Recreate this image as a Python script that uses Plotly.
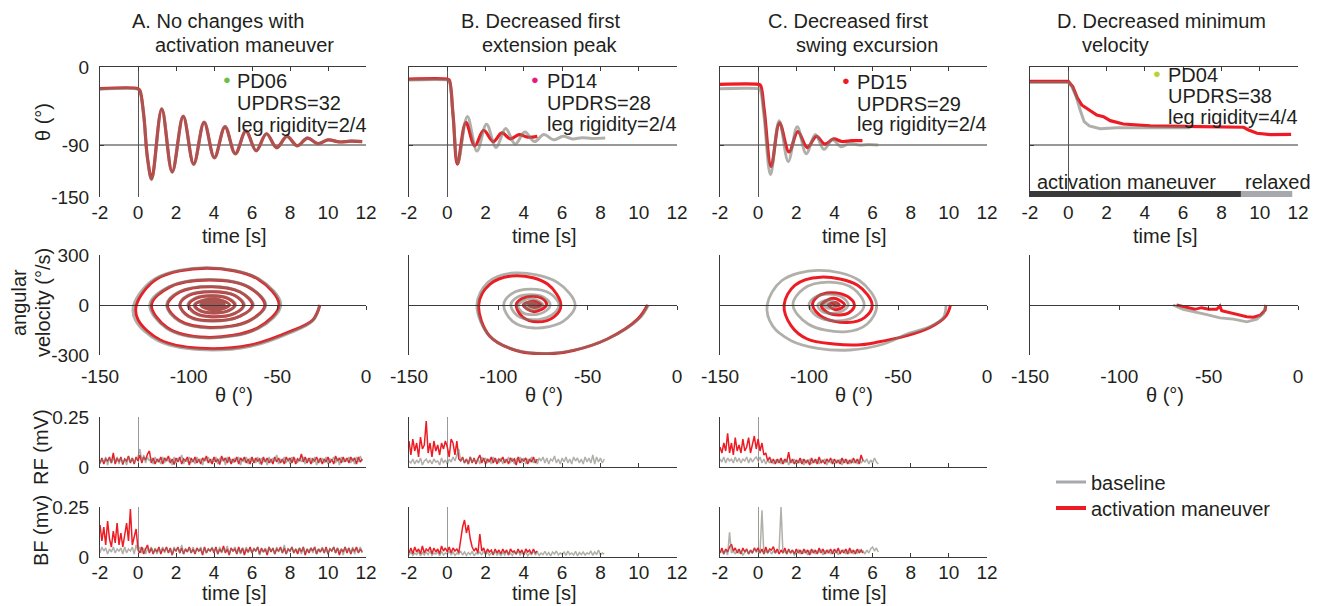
import numpy as np
import plotly.graph_objects as go

W, H = 1319, 606
OFF = 8  # the page body adds an 8 px offset around the figure
FONT = "Liberation Sans, Arial, sans-serif"
TXT = "#231F20"
AXC = "#3A3A3A"
RED = "#ED1C24"
GRAY_TOP = "rgba(125,121,112,0.6)"
GRAY_LEG = "#A7A9AC"

# ---------------- data ----------------
panel_titles = [["A. No changes with", "activation maneuver"],
                ["B. Decreased first", "extension peak"],
                ["C. Decreased first", "swing excursion"],
                ["D. Decreased minimum", "velocity"]]
patients = ["PD06", "PD14", "PD15", "PD04"]
updrs = [32, 28, 29, 38]
leg_rigidity = ["2/4", "2/4", "2/4", "4/4"]
patient_colors = ["#6DBE45", "#E8197E", "#ED1C24", "#B5D334"]

time_ticks = [-2, 0, 2, 4, 6, 8, 10, 12]
theta_ticks = [-150, -90, 0]
phase_x_ticks = [-150, -100, -50, 0]
phase_y_ticks = [-300, 0, 300]
emg_ticks = [0, 0.25]

# angle vs time (key points)
A_act_t = [-2, 0, 0.1, 0.3, 0.5, 0.72, 1.25, 1.8, 2.38, 2.93, 3.48, 4.02, 4.58, 5.12, 5.68, 6.22, 6.76, 7.3, 7.84, 8.38, 8.92, 9.46, 10.0, 10.6, 11.2, 11.8]
A_act_theta = [-25, -25, -27, -55, -105, -129, -48.5, -121, -57, -112, -64, -104.5, -69, -100, -74, -96.5, -77, -93, -80, -91, -82, -88.5, -84, -86.5, -85.5, -86]
A_base_t = A_act_t
A_base_theta = [-25.5, -25.5, -27.5, -56, -106, -130, -48, -121.5, -56.5, -112.5, -63.5, -105, -68.5, -100.5, -73.5, -97, -77, -93.5, -80, -91, -82, -88.5, -84, -86.5, -85.5, -86]

B_act_t = [-2, 0, 0.1, 0.3, 0.53, 0.97, 1.44, 1.9, 2.4, 2.85, 3.3, 3.75, 4.2, 4.7]
B_act_theta = [-14, -14, -15, -55, -112, -64, -91, -73, -86, -76, -83, -78, -81, -80]
B_base_t = [-2, 0, 0.1, 0.3, 0.55, 1.05, 1.55, 2.05, 2.55, 3.05, 3.55, 4.05, 4.55, 5.05, 5.55, 6.05, 6.55, 7.05, 7.55, 8.25]
B_base_theta = [-15, -15, -16, -55, -111, -57, -97, -66, -93, -71, -89, -75, -86, -78, -84, -80, -83, -81.5, -82.5, -82]

C_act_t = [-2, 0, 0.12, 0.32, 0.68, 1.12, 1.62, 2.08, 2.58, 3.05, 3.5, 3.95, 4.4, 4.9, 5.47]
C_act_theta = [-20, -20, -21, -50, -115, -64.5, -98, -74.5, -93, -80, -89, -83, -86, -85, -85]
C_base_t = [-2, 0, 0.1, 0.3, 0.65, 1.1, 1.58, 2.05, 2.52, 3.0, 3.45, 3.9, 4.35, 4.8, 5.3, 5.8, 6.3]
C_base_theta = [-25, -25, -26, -55, -124, -62, -109, -69, -100, -78, -95, -84, -92, -88, -90, -89.5, -90]

D_act_t = [-2, 0, 0.23, 0.48, 0.7, 1.05, 1.49, 1.84, 2.19, 2.88, 4.28, 6.9, 9.16, 9.42, 9.86, 10.55, 11.64]
D_act_theta = [-16.5, -16.5, -22.7, -36, -43.8, -48.8, -55.4, -57.3, -61.9, -65.8, -68, -68.8, -69.5, -72.7, -76.5, -78.1, -77.7]
D_base_t = [-2, 0, 0.18, 0.41, 0.62, 0.83, 1.1, 1.66, 2.54, 6.37]
D_base_theta = [-18, -18, -22, -34.2, -49.6, -63.1, -68, -71.2, -70, -70]

D_phase_bounds = [-2, 9.02, 11.7]
D_phase_labels = ["activation maneuver", "relaxed"]

# phase plane: angle (deg) vs angular velocity (deg/s)
A_act_ph_theta = [-26, -30, -43, -65, -94, -116, -128.5, -129.5,
                  -118, -90, -61, -49,
                  -61, -90, -112, -121,
                  -111, -88, -66, -57,
                  -66, -88, -105, -112,
                  -105, -87, -71, -64,
                  -71, -87, -100, -105,
                  -100, -87, -74, -69,
                  -74, -87, -96, -100,
                  -96, -87, -78, -74,
                  -77.5, -86, -93.5, -96.5,
                  -86, -77, -86, -93, -86, -80, -86, -91, -86, -82, -86, -88.5, -86, -84, -86, -86]
A_act_ph_vel = [0, -90, -160, -240, -260, -210, -90, 0,
                156, 220, 156, 0,
                -137, -194, -137, 0,
                106, 150, 106, 0,
                -95, -135, -95, 0,
                78, 110, 78, 0,
                -67, -95, -67, 0,
                57, 80, 57, 0,
                -50, -70, -50, 0,
                40, 56, 40, 0,
                -34, -48, -34, 0,
                38, 0, -32, 0, 26, 0, -20, 0, 14, 0, -10, 0, 6, 0, -3, 0]
A_base_ph_theta = [-26, -30, -43, -65, -94, -117, -130, -131,
                   -119, -90, -60.5, -48,
                   -60.5, -90, -112.5, -122,
                   -111.5, -88, -66, -56.5,
                   -66, -88, -105.5, -112.5,
                   -105.5, -87, -71, -63.5,
                   -71, -87, -100.5, -105,
                   -100.5, -87, -74, -68.5,
                   -74, -87, -96.5, -100.5,
                   -96.5, -87, -77.5, -73.5,
                   -77.5, -86, -94, -97,
                   -86, -77, -86, -93.5, -86, -80, -86, -91, -86, -82, -86, -88.5, -86, -84, -86, -86]
A_base_ph_vel = [0, -95, -168, -248, -268, -216, -92, 0,
                 158, 224, 158, 0,
                 -140, -198, -140, 0,
                 108, 153, 108, 0,
                 -97, -138, -97, 0,
                 79, 112, 79, 0,
                 -68, -97, -68, 0,
                 58, 82, 58, 0,
                 -51, -72, -51, 0,
                 40, 57, 40, 0,
                 -35, -49, -35, 0,
                 39, 0, -33, 0, 27, 0, -21, 0, 15, 0, -10, 0, 6, 0, -3, 0]

B_act_ph_theta = [-16.5, -22, -39, -58, -73, -90, -105, -111,
                  -104.8, -90, -72.3, -65,
                  -68.8, -78, -86.5, -90,
                  -87, -80, -75, -73,
                  -80, -86, -80, -76, -80, -83, -80, -78, -80, -80]
B_act_ph_vel = [0, -85, -204, -273, -293, -273, -184, 0,
                124, 176, 124, 0,
                -71, -101, -71, 0,
                37, 53, 37, 0,
                -40, 0, 22, 0, -15, 0, 8, 0, -4, 0]
B_base_ph_theta = [-16, -21, -38, -57, -72, -90, -105, -112,
                   -105.8, -91, -67, -57,
                   -63.7, -80, -92, -97,
                   -92.6, -82, -70.7, -66,
                   -70.4, -81, -89.5, -93,
                   -89.8, -82, -74.2, -71,
                   -74.2, -82, -87, -89,
                   -82, -75, -82, -86, -82, -78, -82, -84, -82, -81, -82, -82]
B_base_ph_vel = [0, -80, -200, -270, -290, -272, -186, 0,
                 136, 192, 136, 0,
                 -98, -138, -98, 0,
                 67, 95, 67, 0,
                 -62, -88, -62, 0,
                 44, 62, 44, 0,
                 -41, -58, -41, 0,
                 40, 0, -30, 0, 18, 0, -12, 0, 6, 0, -3, 0]

C_act_ph_theta = [-20.5, -23, -32, -45, -62, -73, -86, -101, -110, -114,
                  -108, -93.5, -72.7, -64.5,
                  -68.6, -78.5, -92.3, -98,
                  -95, -88, -78.5, -74.5,
                  -77, -83, -90, -93,
                  -86, -80, -85, -89, -85, -83, -85, -86, -85]
C_act_ph_vel = [0, -65, -135, -184, -224, -240, -234, -204, -125, 0,
                118, 167, 118, 0,
                -74, -105, -74, 0,
                52, 74, 52, 0,
                -42, -60, -42, 0,
                40, 0, -28, 0, 15, 0, -6, 0, 0]
C_base_ph_theta = [-23, -24.5, -32, -45, -58, -77, -95, -110, -120.5, -123.5,
                   -115.2, -95, -71.7, -62,
                   -67.3, -80, -100.5, -109,
                   -103.1, -89, -74.9, -69,
                   -73.7, -85, -95.6, -100,
                   -96.8, -89, -81.2, -78,
                   -81, -88, -93, -95,
                   -89, -84, -89, -92, -89, -88, -90, -90]
C_base_ph_vel = [0, -75, -129, -174, -234, -270, -260, -214, -125, 0,
                 147, 208, 147, 0,
                 -114, -161, -114, 0,
                 97, 137, 97, 0,
                 -67, -95, -67, 0,
                 46, 65, 46, 0,
                 -35, -50, -35, 0,
                 30, 0, -20, 0, 10, 0, -4, 0]

D_act_ph_theta = [-18, -18.4, -21.2, -24.9, -28.7, -33.4, -38, -42.7, -43.7, -45.5, -50, -54, -57.7, -61.5, -64.3, -68]
D_act_ph_vel = [0, -30, -61, -73, -70, -58, -50, -34, -6, -26, -26, -16, -26, -16, -6, 0]
D_base_ph_theta = [-18, -19.3, -23, -28.7, -36.2, -43.7, -51, -58.7, -64.3, -70]
D_base_ph_vel = [0, -50, -85, -101, -85, -77, -58, -42, -26, 0]

# EMG envelopes (mV), sampled every 0.1 s starting at -2 s
emg_t0 = -2.0
emg_dt = 0.1

A_RF_act = [.02,.045,.015,.04,.03,.05,.02,.07,.015,.045,
            .025,.05,.012,.04,.03,.055,.02,.045,.015,.05,
            .03,.06,.02,.05,.035,.065,.08,.02,.045,.015,
            .04,.025,.05,.015,.045,.03,.055,.02,.04,.012,
            .045,.025,.05,.015,.04,.03,.05,.01,.045,.025,
            .05,.02,.04,.015,.045,.03,.055,.02,.04,.015,
            .05,.025,.04,.012,.055,.03,.045,.02,.05,.015,
            .04,.025,.05,.015,.045,.03,.05,.02,.04,.015,
            .05,.02,.045,.03,.04,.012,.05,.025,.045,.02,
            .04,.015,.05,.025,.045,.02,.04,.015,.05,.03,
            .045,.02,.05,.015,.04,.03,.065,.025,.05,.02,
            .045,.015,.04,.03,.05,.02,.045,.015,.04,.025,
            .05,.02,.04,.015,.055,.03,.045,.02,.05,.025,
            .045,.02,.05,.03,.045,.015,.05,.025,.04]
A_RF_base = [.015,.04,.025,.05,.01,.045,.02,.04,.03,.05,
             .015,.045,.02,.04,.01,.05,.025,.045,.02,.04,
             .05,.09,.03,.06,.02,.05,.03,.045,.015,.05,
             .025,.04,.015,.05,.02,.045,.03,.04,.01,.05,
             .02,.045,.03,.06,.015,.04,.025,.05,.02,.04,
             .015,.05,.025,.04,.01,.045,.03,.05,.02,.04,
             .025,.05,.015,.04,.03,.045,.01,.05,.025,.04,
             .02,.045,.03,.05,.01,.04,.025,.05,.015,.045,
             .03,.04,.02,.05,.015,.045,.025,.04,.01,.05,
             .02,.045,.03,.06,.015,.04,.025,.05,.02,.045,
             .015,.05,.03,.04,.02,.045,.025,.05,.015,.04,
             .03,.045,.02,.05,.01,.04,.025,.045,.02,.05,
             .015,.04,.03,.05,.02,.045,.01,.05,.025,.04,
             .03,.05,.02,.045,.015,.05,.025,.055,.03]
A_BF_act = [.16,.08,.15,.06,.18,.09,.05,.13,.07,.17,
            .06,.12,.05,.1,.17,.08,.24,.06,.11,.14,
            .04,.02,.05,.015,.04,.06,.02,.045,.015,.04,
            .025,.05,.015,.04,.03,.05,.02,.045,.01,.04,
            .03,.05,.02,.045,.015,.04,.025,.05,.02,.04,
            .015,.045,.03,.04,.01,.05,.02,.04,.03,.045,
            .02,.05,.015,.04,.025,.055,.02,.04,.01,.045,
            .03,.04,.015,.05,.02,.045,.01,.04,.025,.05,
            .02,.04,.03,.05,.015,.045,.025,.04,.01,.05,
            .025,.045,.015,.04,.03,.05,.02,.045,.015,.04,
            .03,.05,.02,.04,.015,.045,.025,.05,.01,.04,
            .02,.045,.03,.05,.015,.04,.025,.045,.02,.05,
            .015,.04,.03,.05,.02,.045,.01,.04,.025,.05,
            .02,.045,.015,.04,.03,.05,.02,.04,.025]
A_BF_base = [.02,.05,.03,.045,.015,.04,.025,.05,.02,.04,
             .03,.045,.015,.05,.02,.04,.03,.05,.015,.06,
             .03,.05,.02,.045,.015,.04,.03,.05,.02,.045,
             .015,.04,.03,.05,.02,.045,.025,.04,.01,.05,
             .03,.045,.02,.06,.015,.04,.03,.045,.02,.05,
             .02,.04,.03,.05,.015,.045,.02,.04,.03,.05,
             .025,.045,.015,.05,.02,.04,.03,.055,.015,.04,
             .03,.05,.02,.04,.015,.045,.025,.05,.02,.04,
             .02,.045,.03,.05,.01,.04,.025,.045,.02,.05,
             .03,.04,.015,.05,.025,.045,.02,.06,.015,.04,
             .025,.05,.02,.04,.03,.045,.015,.05,.02,.04,
             .03,.045,.02,.05,.015,.04,.025,.05,.02,.045,
             .015,.04,.03,.05,.02,.045,.025,.04,.01,.05,
             .03,.045,.02,.05,.015,.04,.025,.05,.02]

B_RF_act = [.13,.06,.14,.08,.12,.05,.15,.09,.11,.23,
            .07,.12,.05,.13,.08,.11,.06,.12,.09,.13,
            .1,.05,.14,.12,.06,.13,.04,.03,.05,.02,
            .04,.015,.05,.02,.045,.015,.04,.06,.02,.045,
            .015,.04,.025,.05,.02,.045,.015,.04,.03,.05,
            .02,.04,.015,.045,.03,.04,.01,.05,.02,.04,
            .03,.045,.015,.04,.025,.05,.02,.04]
B_RF_base = [.03,.02,.04,.015,.035,.02,.045,.01,.03,.04,
             .02,.035,.015,.04,.025,.03,.01,.045,.02,.035,
             .015,.04,.025,.05,.03,.06,.09,.03,.045,.02,
             .04,.015,.05,.025,.04,.02,.045,.015,.05,.03,
             .045,.02,.04,.015,.05,.025,.04,.02,.045,.015,
             .04,.025,.05,.02,.045,.015,.04,.03,.05,.02,
             .045,.015,.04,.025,.05,.02,.04,.015,.045,.03,
             .05,.02,.045,.015,.04,.03,.055,.02,.04,.015,
             .045,.025,.05,.02,.04,.015,.05,.03,.045,.02,
             .04,.015,.05,.025,.045,.02,.06,.015,.05,.025,
             .045,.02,.04]
B_BF_act = [.02,.045,.015,.05,.025,.04,.015,.055,.02,.04,
            .03,.05,.015,.045,.025,.04,.015,.055,.03,.045,
            .025,.05,.02,.045,.03,.04,.02,.1,.15,.185,
            .12,.16,.09,.05,.03,.045,.02,.115,.03,.045,
            .015,.04,.025,.035,.01,.04,.02,.035,.015,.04,
            .02,.035,.01,.04,.025,.03,.015,.04,.02,.035,
            .01,.04,.025,.035,.015,.04,.02,.03]
B_BF_base = [.01,.025,.008,.02,.012,.028,.006,.022,.01,.025,
             .012,.03,.008,.02,.015,.025,.006,.028,.01,.02,
             .015,.03,.01,.025,.008,.02,.014,.03,.01,.025,
             .008,.022,.012,.028,.006,.02,.015,.025,.01,.03,
             .012,.025,.008,.02,.015,.03,.01,.022,.006,.025,
             .01,.028,.012,.02,.008,.025,.014,.03,.01,.022,
             .015,.025,.006,.02,.012,.03,.01,.025,.008,.02,
             .012,.028,.01,.022,.006,.025,.015,.03,.01,.02,
             .014,.025,.008,.03,.012,.02,.01,.028,.006,.022,
             .012,.025,.01,.02,.015,.03,.008,.025,.012,.035,
             .01,.02,.015]

C_RF_act = [.1,.07,.12,.08,.168,.07,.12,.06,.147,.08,
            .11,.07,.139,.08,.1,.147,.07,.12,.155,.09,
            .14,.08,.12,.06,.07,.03,.05,.02,.04,.015,
            .04,.02,.045,.015,.04,.025,.074,.02,.04,.015,
            .035,.02,.045,.015,.04,.02,.035,.01,.045,.02,
            .04,.015,.05,.02,.035,.015,.04,.025,.045,.015,
            .04,.02,.035,.015,.045,.02,.04,.015,.035,.02,
            .045,.02,.04,.015,.06,.03]
C_RF_base = [.04,.025,.05,.02,.045,.03,.04,.02,.05,.025,
             .045,.02,.04,.03,.05,.02,.045,.025,.04,.05,
             .03,.05,.02,.04,.015,.035,.02,.04,.015,.035,
             .02,.04,.015,.035,.02,.04,.01,.035,.02,.04,
             .015,.035,.02,.04,.01,.035,.02,.04,.015,.035,
             .02,.04,.015,.035,.025,.04,.01,.035,.02,.04,
             .015,.035,.02,.04,.01,.04,.02,.035,.015,.04,
             .02,.035,.015,.04,.02,.035,.025,.04,.015,.035,
             .02,.045,.025,.015]
C_BF_act = [.02,.045,.015,.04,.025,.05,.064,.03,.045,.02,
            .04,.015,.045,.025,.04,.015,.035,.02,.045,.03,
            .045,.02,.04,.015,.05,.02,.04,.035,.052,.02,
            .04,.015,.035,.02,.045,.015,.04,.02,.035,.015,
            .04,.02,.035,.015,.04,.02,.035,.01,.04,.02,
            .035,.015,.045,.02,.04,.015,.035,.02,.04,.015,
            .04,.02,.045,.015,.035,.02,.04,.015,.045,.02,
            .035,.015,.04,.02,.035,.02]
C_BF_base = [.02,.03,.015,.035,.01,.123,.02,.03,.015,.035,
             .02,.03,.01,.025,.035,.015,.03,.02,.04,.025,
             .03,.02,.233,.015,.03,.02,.035,.015,.03,.02,
             .025,.035,.25,.02,.03,.015,.035,.02,.03,.01,
             .025,.035,.015,.03,.02,.035,.01,.03,.02,.035,
             .015,.03,.025,.035,.01,.03,.02,.035,.015,.03,
             .02,.035,.01,.03,.025,.035,.015,.03,.02,.035,
             .015,.03,.02,.035,.025,.03,.015,.035,.02,.04,
             .05,.03,.045,.025]

# ---------------- layout helpers ----------------
col_px = [(100, 366), (409, 677), (720, 987), (1030, 1298)]
row_px = {"ang": (67, 197), "ph": (255, 355), "rf": (417, 467), "bf": (507, 557)}


def fx(p):
    return (p - OFF) / W


def fy(p):
    return 1 - (p - OFF) / H


def xd(c):
    return [fx(col_px[c][0]), fx(col_px[c][1])]


def yd(r):
    a, b = row_px[r]
    return [fy(b), fy(a)]


def ref(kind, i):
    return kind + ("" if i == 1 else str(i))


def lab(v):
    return "%g" % v


L = dict(width=W, height=H, autosize=False, margin=dict(l=0, r=0, t=0, b=0, pad=0),
         paper_bgcolor="white", plot_bgcolor="rgba(0,0,0,0)",
         font=dict(family=FONT, size=19, color=TXT))


def add_ax(kind, idx, **kw):
    name = kind + "axis" + ("" if idx == 1 else str(idx))
    base = dict(showgrid=False, zeroline=False, linecolor=AXC, linewidth=1,
                tickcolor=AXC, ticklen=5, tickwidth=1, automargin=False,
                tickfont=dict(family=FONT, size=19, color=TXT), fixedrange=True)
    base.update(kw)
    L[name] = base


ph_zero = (yd("ph")[0] + yd("ph")[1]) / 2

for c in range(4):
    # angle row
    add_ax("x", 1 + c, domain=xd(c), anchor=ref("y", 1 + c), range=[-2, 12],
           tickvals=time_ticks, ticktext=[lab(v) for v in time_ticks],
           showline=False, ticks="", zeroline=True, zerolinecolor="#555", zerolinewidth=1,
           ticklabelstandoff=2)
    add_ax("x", 15 + c, overlaying=ref("x", 1 + c), anchor=ref("y", 1 + c), side="top",
           range=[-2, 12], tickvals=time_ticks, showline=True, ticks="inside",
           ticklen=4, showticklabels=False)
    add_ax("y", 1 + c, domain=yd("ang"), anchor=ref("x", 1 + c), range=[-150, 0],
           tickvals=theta_ticks, ticktext=[lab(v) for v in theta_ticks],
           ticks="inside", ticklen=4, showline=True, showticklabels=(c == 0),
           ticklabelstandoff=6)
    # phase row
    add_ax("x", 5 + c, domain=xd(c), anchor=ref("y", 5 + c), range=[-150, 0],
           tickvals=phase_x_ticks, ticktext=[lab(v) for v in phase_x_ticks],
           showline=False, ticks="", ticklabelstandoff=8)
    add_ax("x", 19 + c, overlaying=ref("x", 5 + c), anchor="free", position=ph_zero,
           range=[-150, 0], tickvals=phase_x_ticks[1:], showline=True, ticks="outside",
           ticklen=4, showticklabels=False)
    add_ax("y", 5 + c, domain=yd("ph"), anchor=ref("x", 5 + c), range=[-300, 300],
           tickvals=phase_y_ticks, ticktext=[lab(v) for v in phase_y_ticks],
           ticks="inside", ticklen=4, showline=True, showticklabels=(c == 0),
           ticklabelstandoff=6)

for c in range(3):
    for base_i, row, show_x in ((9, "rf", False), (12, "bf", True)):
        add_ax("x", base_i + c, domain=xd(c), anchor=ref("y", base_i + c), range=[-2, 12],
               tickvals=time_ticks, ticktext=[lab(v) for v in time_ticks],
               showline=True, ticks="inside", ticklen=4, showticklabels=show_x,
               zeroline=True, zerolinecolor="#9A9A9A", zerolinewidth=1,
               ticklabelstandoff=-2)
        add_ax("y", base_i + c, domain=yd(row), anchor=ref("x", base_i + c), range=[0, 0.25],
               tickvals=emg_ticks, ticktext=["0", "0.25"], ticks="inside", ticklen=4,
               showline=True, showticklabels=(c == 0), ticklabelstandoff=6)

fig = go.Figure()


def line(x, y, xi, yi, color, width, shape="linear"):
    fig.add_trace(go.Scatter(x=x, y=y, mode="lines", xaxis=ref("x", xi), yaxis=ref("y", yi),
                             line=dict(color=color, width=width, shape=shape, smoothing=1.0),
                             showlegend=False, hoverinfo="skip"))


angle_data = [(A_act_t, A_act_theta, A_base_t, A_base_theta),
              (B_act_t, B_act_theta, B_base_t, B_base_theta),
              (C_act_t, C_act_theta, C_base_t, C_base_theta),
              (D_act_t, D_act_theta, D_base_t, D_base_theta)]
phase_data = [(A_act_ph_theta, A_act_ph_vel, A_base_ph_theta, A_base_ph_vel),
              (B_act_ph_theta, B_act_ph_vel, B_base_ph_theta, B_base_ph_vel),
              (C_act_ph_theta, C_act_ph_vel, C_base_ph_theta, C_base_ph_vel),
              (D_act_ph_theta, D_act_ph_vel, D_base_ph_theta, D_base_ph_vel)]

for c in range(4):
    at, av, bt, bv = angle_data[c]
    shp = "linear" if c == 3 else "spline"
    line(at, av, 1 + c, 1 + c, RED, 3.2, shp)
    line(bt, bv, 1 + c, 1 + c, GRAY_TOP, 3, shp)
    ax_, av_, bx_, bv_ = phase_data[c]
    line(ax_, av_, 5 + c, 5 + c, RED, 3, shp)
    line(bx_, bv_, 5 + c, 5 + c, GRAY_TOP, 2.8, shp)
    # dummy traces so the overlay axes get drawn
    line([None], [None], 15 + c, 1 + c, RED, 1)
    line([None], [None], 19 + c, 5 + c, RED, 1)

# activation / relaxed bar in panel D
line(D_phase_bounds[0:2], [-146.5, -146.5], 4, 4, "#3A3A3A", 6)
line(D_phase_bounds[1:3], [-146.5, -146.5], 4, 4, "#A7A9AC", 6)

emg_data = [(A_RF_act, A_RF_base, A_BF_act, A_BF_base),
            (B_RF_act, B_RF_base, B_BF_act, B_BF_base),
            (C_RF_act, C_RF_base, C_BF_act, C_BF_base)]


def emg_t(arr):
    return list(np.round(emg_t0 + emg_dt * np.arange(len(arr)), 2))


for c in range(3):
    rfa, rfb, bfa, bfb = emg_data[c]
    line(emg_t(rfa), rfa, 9 + c, 9 + c, RED, 1.5)
    line(emg_t(rfb), rfb, 9 + c, 9 + c, GRAY_TOP, 1.5)
    line(emg_t(bfa), bfa, 12 + c, 12 + c, RED, 1.5)
    line(emg_t(bfb), bfb, 12 + c, 12 + c, GRAY_TOP, 1.5)

# legend-only traces, each in its own legend box for exact placement
fig.add_trace(go.Scatter(x=[None], y=[None], mode="lines", name="baseline",
                         line=dict(color=GRAY_LEG, width=3), showlegend=True, legend="legend"))
fig.add_trace(go.Scatter(x=[None], y=[None], mode="lines", name="activation maneuver",
                         line=dict(color=RED, width=4), showlegend=True, legend="legend2"))

leg_common = dict(xanchor="left", yanchor="middle", bgcolor="rgba(0,0,0,0)",
                  font=dict(family=FONT, size=20, color=TXT), itemwidth=30)
L["legend"] = dict(x=fx(1051), y=fy(482), **leg_common)
L["legend2"] = dict(x=fx(1051), y=fy(508), **leg_common)

# shapes: -90 reference lines
shapes = []
for c in range(4):
    shapes.append(dict(type="line", xref=ref("x", 1 + c) + " domain", x0=0, x1=1,
                       yref=ref("y", 1 + c), y0=-90, y1=-90,
                       line=dict(color="#333", width=1), layer="below"))
L["shapes"] = shapes


def ann(text, px, py, size=20, xanchor="center", angle=0, color=TXT):
    return dict(text=text, x=fx(px), y=fy(py), xref="paper", yref="paper",
                xanchor=xanchor, yanchor="middle", showarrow=False, textangle=angle,
                font=dict(family=FONT, size=size, color=color))


anns = []
title_pos = [((218, 21), (244, 45)), ((540, 21), (550, 45)), ((848, 21), (867, 45)), ((1161, 21), (1115, 45))]
for c in range(4):
    (x1, y1), (x2, y2) = title_pos[c]
    anns.append(ann(panel_titles[c][0], x1, y1))
    anns.append(ann(panel_titles[c][1], x2, y2))

info_pos = [(226.5, 235, (81, 103, 125)), (535, 545, (81, 103, 124)),
            (846, 855, (82, 104, 124)), (1157, 1166, (75, 96, 117))]
for c in range(4):
    dx, tx, ys = info_pos[c]
    anns.append(ann("●", dx, ys[0] - 2, size=13, color=patient_colors[c]))
    anns.append(ann(patients[c], tx, ys[0], xanchor="left"))
    anns.append(ann("UPDRS=%d" % updrs[c], tx, ys[1], xanchor="left"))
    anns.append(ann("leg rigidity=%s" % leg_rigidity[c], tx, ys[2], xanchor="left"))

# axis titles
for c in range(4):
    cx = (col_px[c][0] + col_px[c][1]) / 2 + 1
    anns.append(ann("time [s]", cx, 236))
    anns.append(ann("θ (°)", cx, 395))
for c in range(3):
    cx = (col_px[c][0] + col_px[c][1]) / 2 + 1
    anns.append(ann("time [s]", cx, 593))

anns.append(ann("θ (°)", 43, 122, angle=-90))
anns.append(ann("angular", 19, 303, angle=-90))
anns.append(ann("velocity (°/s)", 43, 303, angle=-90))
anns.append(ann("RF (mV)", 41, 447, angle=-90))
anns.append(ann("BF (mv)", 41, 531, angle=-90))

anns.append(ann(D_phase_labels[0], 1035, 182, xanchor="left"))
anns.append(ann(D_phase_labels[1], 1243, 182, xanchor="left"))

L["annotations"] = anns
fig.update_layout(**L)
fig.write_html("out.html")
